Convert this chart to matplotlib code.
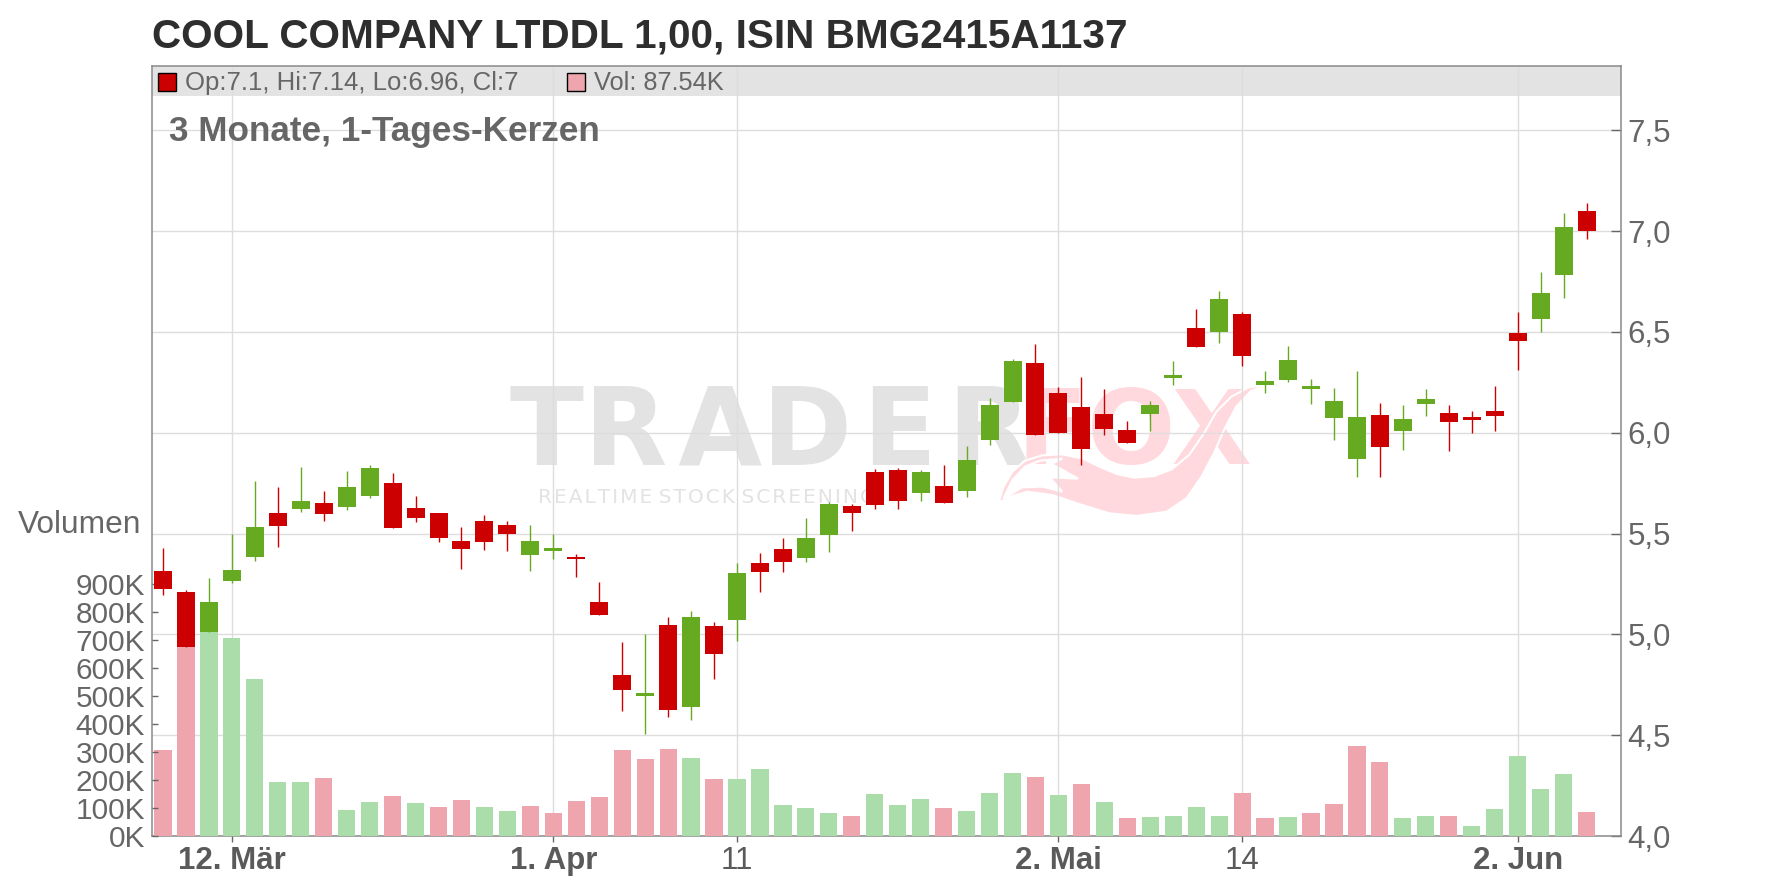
import matplotlib
matplotlib.use("Agg")
import matplotlib.pyplot as plt
from matplotlib.patches import PathPatch, Rectangle
from matplotlib.path import Path
from matplotlib.transforms import Affine2D

plt.rcParams["font.family"] = "Liberation Sans"

W, H = 1776, 888
TITLE = "COOL COMPANY LTDDL 1,00, ISIN BMG2415A1137"
SUBTITLE = "3 Monate, 1-Tages-Kerzen"
LEGEND_OHLC = "Op:7.1, Hi:7.14, Lo:6.96, Cl:7"
LEGEND_VOL = "Vol: 87.54K"

opens = [5.313,5.209,5.011,5.264,5.383,5.601,5.62,5.65,5.631,5.685,5.753,5.626,5.60,5.462,5.561,5.541,5.393,5.412,5.383,5.159,
         4.797,4.693,5.045,4.64,5.04,5.073,5.352,5.421,5.377,5.491,5.635,5.803,5.813,5.699,5.734,5.709,5.962,6.15,6.344,6.195,
         6.126,6.091,6.012,6.091,6.269,6.521,6.497,6.591,6.239,6.259,6.219,6.071,5.868,6.086,6.007,6.14,6.096,6.076,6.106,6.492,
         6.566,6.784,7.10]
highs = [5.427,5.219,5.278,5.50,5.76,5.73,5.832,5.71,5.81,5.84,5.80,5.685,5.60,5.531,5.591,5.561,5.541,5.497,5.397,5.259,
         4.961,5.0,5.084,5.118,5.06,5.352,5.401,5.476,5.575,5.654,5.645,5.818,5.823,5.813,5.838,5.932,6.17,6.364,6.438,6.225,
         6.274,6.215,6.056,6.155,6.358,6.611,6.705,6.601,6.304,6.432,6.264,6.224,6.304,6.145,6.135,6.215,6.135,6.106,6.234,6.601,
         6.799,7.091,7.14]
lows = [5.194,4.936,5.011,5.254,5.363,5.432,5.606,5.561,5.616,5.675,5.526,5.556,5.457,5.323,5.417,5.412,5.313,5.373,5.283,5.095,
        4.619,4.505,4.59,4.573,4.78,4.966,5.208,5.307,5.357,5.406,5.511,5.62,5.62,5.659,5.649,5.679,5.937,6.15,5.987,5.997,
        5.838,5.987,5.947,6.007,6.239,6.427,6.447,6.333,6.195,6.249,6.14,5.962,5.779,5.779,5.913,6.081,5.908,5.997,6.007,6.309,
        6.497,6.67,6.96]
closes = [5.224,4.936,5.159,5.318,5.531,5.536,5.66,5.596,5.73,5.825,5.526,5.576,5.477,5.422,5.457,5.497,5.462,5.427,5.373,5.095,
          4.723,4.708,4.624,5.084,4.905,5.302,5.307,5.357,5.476,5.645,5.60,5.64,5.659,5.803,5.649,5.863,6.136,6.354,5.987,5.997,
          5.917,6.017,5.947,6.136,6.284,6.427,6.665,6.378,6.254,6.363,6.234,6.155,6.076,5.927,6.066,6.165,6.051,6.061,6.081,6.457,
          6.695,7.021,7.0]
volumes = [307,800,780,707,561,193,193,207,93,121,143,118,104,129,104,89,107,82,125,139,
           307,275,311,279,204,204,239,111,100,82,71,150,111,132,100,89,154,225,211,146,
           186,121,64,68,71,104,71,154,64,68,82,114,321,264,64,71,71,36,96,286,
           168,221,87.54]
price_ticks = [4.0,4.5,5.0,5.5,6.0,6.5,7.0,7.5]
price_labels = ["4,0","4,5","5,0","5,5","6,0","6,5","7,0","7,5"]
vol_ticks = [0,100,200,300,400,500,600,700,800,900]
vol_labels = ["0K","100K","200K","300K","400K","500K","600K","700K","800K","900K"]
date_ticks = [3,17,25,39,47,59]
date_labels = ["12. Mär","1. Apr","11","2. Mai","14","2. Jun"]
date_bold = [True,True,False,True,False,True]

RED, GREEN = "#CC0000", "#66AA22"
PINK, LGREEN = "#EFA5AE", "#ABDDAA"
GRID, SPINE, TXT = "#DDDDDD", "#8A8A8A", "#666666"
WM_GREY, WM_PINK = "#E3E3E3", "#FFD9DE"

L, R, T, B = 152, 1620.5, 65.7, 836
rect = [L/W, (H-B)/H, (R-L)/W, (B-T)/H]
xlim = (-0.479, 63.48)
plim = (4.0, 7.82)
vlim = (0, (B-T)/0.2797)

fig = plt.figure(figsize=(W/100, H/100), dpi=100, facecolor="white")
px = Affine2D().scale(1, -1).translate(0, H)   # reference-pixel decoration placement

# bottom layer: grid, band, watermark, right/bottom ticks
ax = fig.add_axes(rect)
ax.set_xlim(xlim); ax.set_ylim(plim)
ax.yaxis.tick_right()
ax.set_yticks(price_ticks, price_labels)
ax.set_xticks(date_ticks, date_labels)
ax.set_axisbelow("line")
ax.grid(True, color=GRID, lw=1.0)
ax.tick_params(axis="y", direction="in", length=7, width=1, color="#666666", labelsize=22.5, labelcolor=TXT, pad=5)
ax.tick_params(axis="x", direction="out", length=4, width=1, color="#666666", labelsize=22.5, labelcolor="#5A5A5A", pad=3.5)
for lab, b in zip(ax.get_xticklabels(), date_bold):
    lab.set_fontweight("bold" if b else "normal")
for s in ax.spines.values():
    s.set_color(SPINE); s.set_linewidth(1.1)
ax.set_zorder(1)

ax.add_patch(Rectangle((L, 65.7), R-L, 30.3, transform=px, facecolor="#E3E3E3", edgecolor="none", zorder=0.5, clip_on=False))

# watermark
hair = "\u200a"
ax.text(510, 464, "TR" + hair + "AD" + hair + "E" + hair + "R", transform=px, fontsize=78, fontweight="bold", family="DejaVu Sans", color=WM_GREY, ha="left", va="baseline", zorder=0.6)
ax.text(1016, 464, "FOX", transform=px, fontsize=75, fontweight="bold", family="DejaVu Sans", color=WM_PINK, ha="left", va="baseline", zorder=0.6)
ax.text(538, 503, hair.join("REALTIME") + " " + hair.join("STOCK") + " " + hair.join("SCREENING"), transform=px, fontsize=14.5, family="DejaVu Sans", color=WM_GREY, ha="left", va="baseline", zorder=0.6)
outer = [(1002,398),(1012,350),(1030,305),(1055,272),(1090,256),(1130,253),(1170,265),(1205,290),(1240,312),(1275,323),(1315,318),(1350,298),
         (1385,255),(1415,190),(1440,125),(1470,80),(1505,52),(1545,44),(1510,62),(1480,110),(1455,180),(1435,250),(1410,320),(1380,385),
         (1340,425),(1280,438),(1225,430),(1170,405),(1110,375),(1060,365),(1030,378),(1002,398)]
hole = [(1012,385),(1050,352),(1090,350),(1130,365),(1105,322),(1162,326),(1125,295),(1108,282),(1130,266),(1085,272),(1055,290),(1030,330),(1012,385)]
zpx = lambda p: (500 + p[0]/2.01, 370 + p[1]/3)
verts = [zpx(p) for p in outer] + [zpx(p) for p in hole]
codes = [Path.MOVETO] + [Path.LINETO]*(len(outer)-2) + [Path.CLOSEPOLY] + [Path.MOVETO] + [Path.LINETO]*(len(hole)-2) + [Path.CLOSEPOLY]
ax.add_patch(PathPatch(Path(verts, codes), transform=px, facecolor=WM_PINK, edgecolor="white", linewidth=1.5, zorder=0.7, clip_on=False))

# volume layer
axv = fig.add_axes(rect, sharex=ax)
axv.patch.set_visible(False)
axv.set_ylim(vlim)
axv.set_yticks(vol_ticks, vol_labels)
axv.tick_params(axis="y", direction="in", length=4, width=1, color="#666666", labelsize=21.5, labelcolor=TXT, pad=5)
axv.tick_params(axis="x", bottom=False, labelbottom=False)
for s in axv.spines.values():
    s.set_visible(False)
axv.set_zorder(2)
xs = list(range(len(opens)))
vol_colors = [PINK] + [LGREEN if closes[i] > closes[i-1] else PINK for i in xs[1:]]
axv.bar(xs, volumes, width=0.75, color=vol_colors, linewidth=0)

# candle layer
axc = fig.add_axes(rect, sharex=ax, sharey=ax)
axc.patch.set_visible(False)
axc.axis("off")
axc.set_zorder(3)
colors = [RED if c <= o else GREEN for o, c in zip(opens, closes)]
axc.vlines(xs, lows, highs, colors=colors, linewidth=1.0)
axc.bar(xs, [abs(c-o) for o, c in zip(opens, closes)], bottom=[min(o, c) for o, c in zip(opens, closes)], width=0.785, color=colors, linewidth=0)

# text layer
fig.text(152/W, 1-47/H, TITLE, fontsize=29.15, fontweight="bold", color="#2E2E2E", ha="left", va="baseline", zorder=10)
fig.text(169/W, 1-140.5/H, SUBTITLE, fontsize=25.3, fontweight="bold", color=TXT, ha="left", va="baseline", zorder=10)
fig.text(185/W, 1-90/H, LEGEND_OHLC, fontsize=18.5, color=TXT, ha="left", va="baseline", zorder=10)
fig.text(594/W, 1-90/H, LEGEND_VOL, fontsize=18.3, color=TXT, ha="left", va="baseline", zorder=10)
fig.text(18/W, 1-533/H, "Volumen", fontsize=22.8, color=TXT, ha="left", va="baseline", zorder=10)
fig.add_artist(Rectangle((157.5, 72.5), 18, 18, transform=px, facecolor=RED, edgecolor="black", linewidth=1, zorder=10))
fig.add_artist(Rectangle((566.5, 72.5), 18, 18, transform=px, facecolor=PINK, edgecolor="black", linewidth=1, zorder=10))

fig.savefig("out.png", dpi=100, facecolor="white")
